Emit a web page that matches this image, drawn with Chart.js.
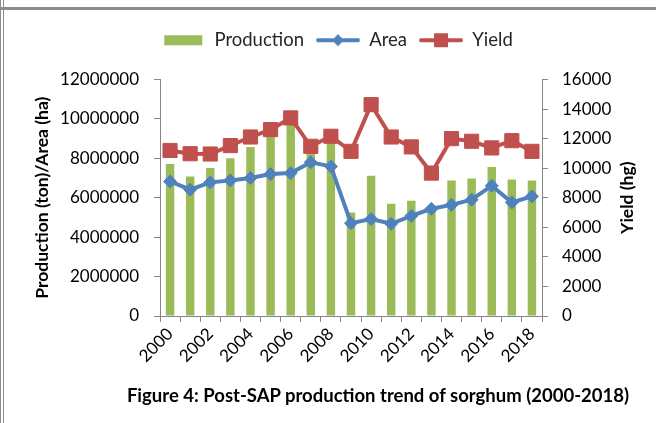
<!DOCTYPE html>
<html>
<head>
<meta charset="utf-8">
<script src="https://cdn.jsdelivr.net/npm/chart.js@4"></script>
<style>
    body { margin: 0; background: #fff; }
    #wrap { position: absolute; left: 0; top: 0; width: 656px; height: 423px; }
    #frameTop { position: absolute; left: 0; top: 7px; width: 656px; height: 0; border-top: 3px solid #8c8c8c; }
    #frameLeft { position: absolute; left: 0; top: 0; width: 0; height: 423px; border-left: 4px double #8c8c8c; }
    #caption { position: absolute; left: 0; top: 384px; width: 756px; text-align: center;
        font: bold 18.5px Lato, sans-serif; color: #000; }
</style>
</head>
<body>
<div id="wrap"><canvas id="chart1" width="656" height="423"></canvas></div>
<div id="frameTop"></div>
<div id="frameLeft"></div>
<div id="caption">Figure 4: Post-SAP production trend of sorghum (2000-2018)</div>
<script>
// Data
var years = ['2000', '2001', '2002', '2003', '2004', '2005', '2006', '2007', '2008', '2009',
    '2010', '2011', '2012', '2013', '2014', '2015', '2016', '2017', '2018'];
var production = [7710000, 7080000, 7510000, 8000000, 8580000, 9100000, 9750000, 8600000, 9000000, 5250000,
    7120000, 5690000, 5850000, 5350000, 6880000, 6980000, 7560000, 6930000, 6880000];
var area = [6830000, 6410000, 6780000, 6880000, 7000000, 7200000, 7250000, 7800000, 7590000, 4710000,
    4920000, 4680000, 5080000, 5440000, 5640000, 5900000, 6610000, 5760000, 6070000];
var yieldHg = [11200, 10980, 10960, 11530, 12110, 12610, 13400, 11480, 12160, 11140,
    14300, 12110, 11440, 9670, 12000, 11820, 11370, 11860, 11140];

var GREEN = '#9bbb59', BLUE = '#4f81bd', RED = '#c0504d';
var FONT = 'Lato, sans-serif';
var TICK_FONT = { family: FONT, size: 17 };

// small canvases used as legend symbols
function legendIcon(kind, color) {
    var c = document.createElement('canvas');
    c.width = 44; c.height = 16;
    var g = c.getContext('2d');
    g.fillStyle = color;
    if (kind === 'box') {
        g.fillRect(3, 3, 38, 10);
        return c;
    }
    g.strokeStyle = color;
    g.lineWidth = 4;
    g.lineCap = 'round';
    g.beginPath(); g.moveTo(2, 8); g.lineTo(42, 8); g.stroke();
    g.beginPath();
    if (kind === 'diamond') {
        g.moveTo(22, 2); g.lineTo(28, 8); g.lineTo(22, 14); g.lineTo(16, 8);
    } else {
        g.rect(15, 1, 14, 14);
    }
    g.fill();
    return c;
}

// right title reads bottom-to-top like the left one
var rightTitle = {
    id: 'rightTitle',
    afterDraw: function (chart) {
        var ctx = chart.ctx;
        ctx.save();
        ctx.translate(627, (chart.chartArea.top + chart.chartArea.bottom) / 2);
        ctx.rotate(-Math.PI / 2);
        ctx.font = 'bold 17.5px ' + FONT;
        ctx.fillStyle = '#000';
        ctx.textAlign = 'center';
        ctx.textBaseline = 'middle';
        ctx.fillText('Yield (hg)', 0, 0);
        ctx.restore();
    }
};

function plain(v) { return String(v); }

var chart1 = new Chart(document.getElementById('chart1'), {
    type: 'bar',
    data: {
        labels: years,
        datasets: [{
            label: 'Production',
            data: production,
            backgroundColor: GREEN,
            yAxisID: 'y',
            categoryPercentage: 1,
            barPercentage: 0.42,
            order: 3
        }, {
            type: 'line',
            label: 'Area',
            data: area,
            borderColor: BLUE,
            backgroundColor: BLUE,
            borderWidth: 4,
            pointStyle: 'rectRot',
            pointRadius: 6.5,
            pointBorderWidth: 1,
            yAxisID: 'y',
            order: 2
        }, {
            type: 'line',
            label: 'Yield',
            data: yieldHg,
            borderColor: RED,
            backgroundColor: RED,
            borderWidth: 4,
            pointStyle: 'rect',
            pointRadius: 10,
            pointBorderWidth: 1,
            yAxisID: 'y1',
            order: 1
        }]
    },
    options: {
        responsive: false,
        animation: false,
        layout: { padding: { top: 19, left: 0, right: 0, bottom: 0 } },
        plugins: {
            tooltip: { enabled: false },
            legend: {
                position: 'top',
                labels: {
                    font: { family: FONT, size: 18.5 },
                    color: '#262626',
                    usePointStyle: true,
                    pointStyleWidth: 44,
                    padding: 12,
                    generateLabels: function () {
                        return [
                            { text: 'Production', pointStyle: legendIcon('box', GREEN), fontColor: '#262626', lineWidth: 0 },
                            { text: 'Area', pointStyle: legendIcon('diamond', BLUE), fontColor: '#262626', lineWidth: 0 },
                            { text: 'Yield', pointStyle: legendIcon('square', RED), fontColor: '#262626', lineWidth: 0 }
                        ];
                    }
                }
            }
        },
        scales: {
            x: {
                afterFit: function (s) { s.height = 107; },
                grid: { offset: true, drawOnChartArea: false, tickLength: 6, color: '#868686' },
                border: { color: '#868686' },
                ticks: {
                    autoSkip: false,
                    maxRotation: 45,
                    minRotation: 45,
                    padding: 2,
                    color: '#000',
                    font: TICK_FONT,
                    callback: function (v, i) { return i % 2 === 0 ? years[i] : ''; }
                }
            },
            y: {
                position: 'left',
                min: 0,
                max: 12000000,
                afterFit: function (s) { s.width = 160; },
                grid: { drawOnChartArea: false, tickLength: 6, color: '#868686' },
                border: { color: '#868686' },
                ticks: { stepSize: 2000000, padding: 15, color: '#000', font: TICK_FONT, callback: plain },
                title: {
                    display: true,
                    text: 'Production (ton)/Area (ha)',
                    color: '#000',
                    font: { family: FONT, size: 17.5, weight: 'bold' },
                    padding: { top: 32 }
                }
            },
            y1: {
                position: 'right',
                min: 0,
                max: 16000,
                afterFit: function (s) { s.width = 114; },
                grid: { drawOnChartArea: false, tickLength: 6, color: '#868686' },
                border: { color: '#868686' },
                ticks: { stepSize: 2000, padding: 14, color: '#000', font: TICK_FONT, callback: plain }
            }
        }
    },
    plugins: [rightTitle]
});

// extra room under the legend so the plot starts lower
var legendFit = chart1.legend.fit;
chart1.legend.fit = function () {
    legendFit.call(this);
    this.height += 20;
};
// legend sits a little right of centre in the original
var legendDraw = chart1.legend.draw;
chart1.legend.draw = function () {
    this.ctx.save();
    this.ctx.translate(9, 0);
    legendDraw.call(this);
    this.ctx.restore();
};
chart1.update();
</script>
</body>
</html>
